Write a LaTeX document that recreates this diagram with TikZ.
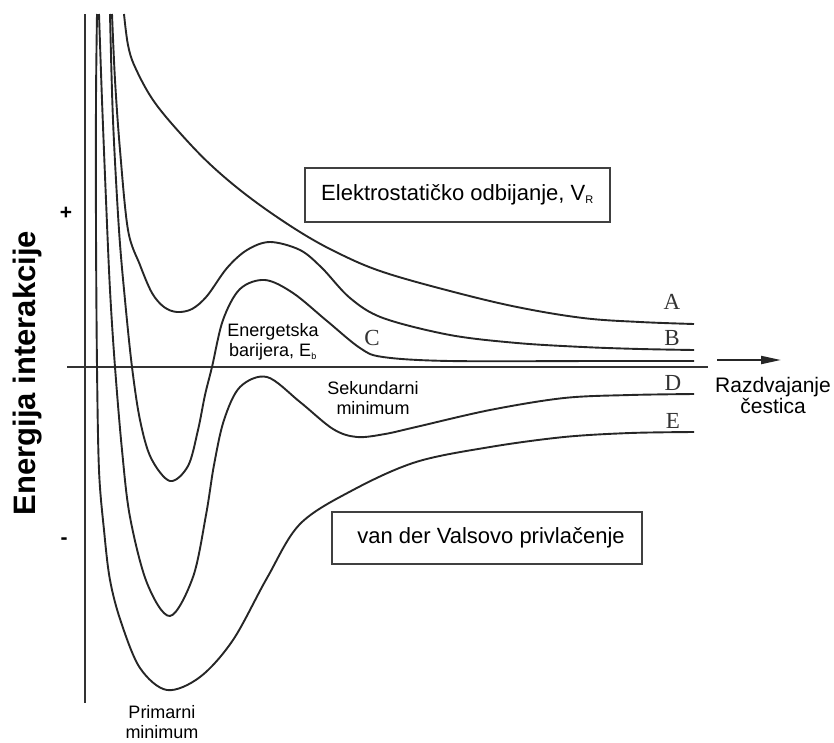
\documentclass[tikz,border=0pt]{standalone}
\usepackage{fontspec}
\setmainfont{Liberation Sans}
\newfontfamily\lettersfont{Liberation Serif}
\usetikzlibrary{arrows.meta}
\begin{document}
\begin{tikzpicture}[x=1pt,y=-1pt,
  curve/.style={line width=1.9pt, black!85, line join=round},
  axisline/.style={line width=1.4pt, black!80},
  labelbox/.style={draw=black!75, line width=1.8pt, inner sep=0pt,
    font=\fontsize{22}{26}\selectfont},
  curvelabel/.style={font=\lettersfont\fontsize{23}{26}\selectfont, text=black!80},
  note/.style={font=\fontsize{18}{20}\selectfont, align=center, inner sep=0pt}]
\useasboundingbox (0,0) rectangle (834,742);

% axes
\coordinate (ytop) at (85,14);
\coordinate (ybot) at (85,703);
\coordinate (xleft) at (67,367);
\coordinate (xright) at (708,367);
\draw[axisline] (ytop) -- (ybot);
\draw[axisline] (xleft) -- (xright);

% separation arrow
\coordinate (arrS) at (717,360);
\coordinate (arrE) at (781,360);
\draw[line width=2pt, black!85, -{Triangle[length=20pt,width=8pt]}] (arrS) -- (arrE);
\node[font=\fontsize{21}{24}\selectfont, align=center] (sep) at (773,395) {Razdvajanje\\[-3pt]čestica};

% axis labels
\node[rotate=90, font=\bfseries\fontsize{31}{31}\selectfont] (ylabel) at (28,373) {Energija interakcije};
\node[font=\bfseries\fontsize{21}{21}\selectfont] (plus) at (66,213) {+};
\node[font=\bfseries\fontsize{21}{21}\selectfont] (minus) at (64,541) {-};

% curve A
\draw[curve] plot[smooth, tension=0.6] coordinates {
  (124,14) (128,45) (135,67) (153,100) (180,133) (213,167) (253,200)
  (300,232) (340,254) (383,272) (450,291) (517,307) (583,318) (640,322) (694,324)};

% curve B
\draw[curve] plot[smooth, tension=0.55] coordinates {
  (112,14) (115,80) (120,150) (128,230) (140,265) (152,293) (164,307) (177,312)
  (192,309) (207,296) (227,268) (247,250) (270,242) (300,250) (322,268)
  (350,298) (383,318) (450,335) (517,343) (583,347) (640,349) (694,350)};

% curve C
\draw[curve] plot[smooth, tension=0.55] coordinates {
  (110,14) (113,120) (119,230) (125,300) (132,367) (140,420) (151,458)
  (170,481) (188,466) (198,430) (205,395) (212,367) (223,320) (240,289)
  (265,280) (293,293) (327,321) (360,348) (383,357) (450,361) (600,361) (694,361)};

% curve D
\draw[curve] plot[smooth, tension=0.55] coordinates {
  (99,14) (102,100) (106,200) (110,290) (115,367) (122,450) (130,517)
  (147,583) (170,616) (193,577) (206,515) (214,465) (224,420) (240,387)
  (267,377) (300,402) (333,429) (357,437) (385,434) (416,427) (490,410)
  (564,398) (630,395) (694,394)};

% curve E
\draw[curve] plot[smooth, tension=0.55] coordinates {
  (97,14) (96,100) (96,230) (97,367) (99,470) (104,530) (110,580)
  (121,622) (140,668) (167,690) (200,677) (233,640) (267,578) (300,524)
  (353,490) (416,462) (490,447) (564,437) (630,433) (694,432)};

% curve letters
\node[curvelabel] (labA) at (672,302) {A};
\node[curvelabel] (labB) at (672,338) {B};
\node[curvelabel] (labC) at (372,338) {C};
\node[curvelabel] (labD) at (673,383) {D};
\node[curvelabel] (labE) at (673,421) {E};

% boxed labels
\node[labelbox, minimum width=305pt, minimum height=54pt] (repulsion) at (457.5,195)
  {Elektrostatičko odbijanje, V\textsubscript{\fontsize{11}{11}\selectfont R}};
\node[labelbox, minimum width=310pt, minimum height=52pt] (attraction) at (487,538)
  {\hspace{8pt}van der Valsovo privlačenje};

% annotations
\node[note] (barrier) at (273,342) {Energetska\\barijera, E\textsubscript{\fontsize{9}{9}\selectfont b}};
\node[note] (secmin) at (373,398) {Sekundarni\\minimum};
\node[note] (primmin) at (162,722) {Primarni\\minimum};
\end{tikzpicture}
\end{document}
